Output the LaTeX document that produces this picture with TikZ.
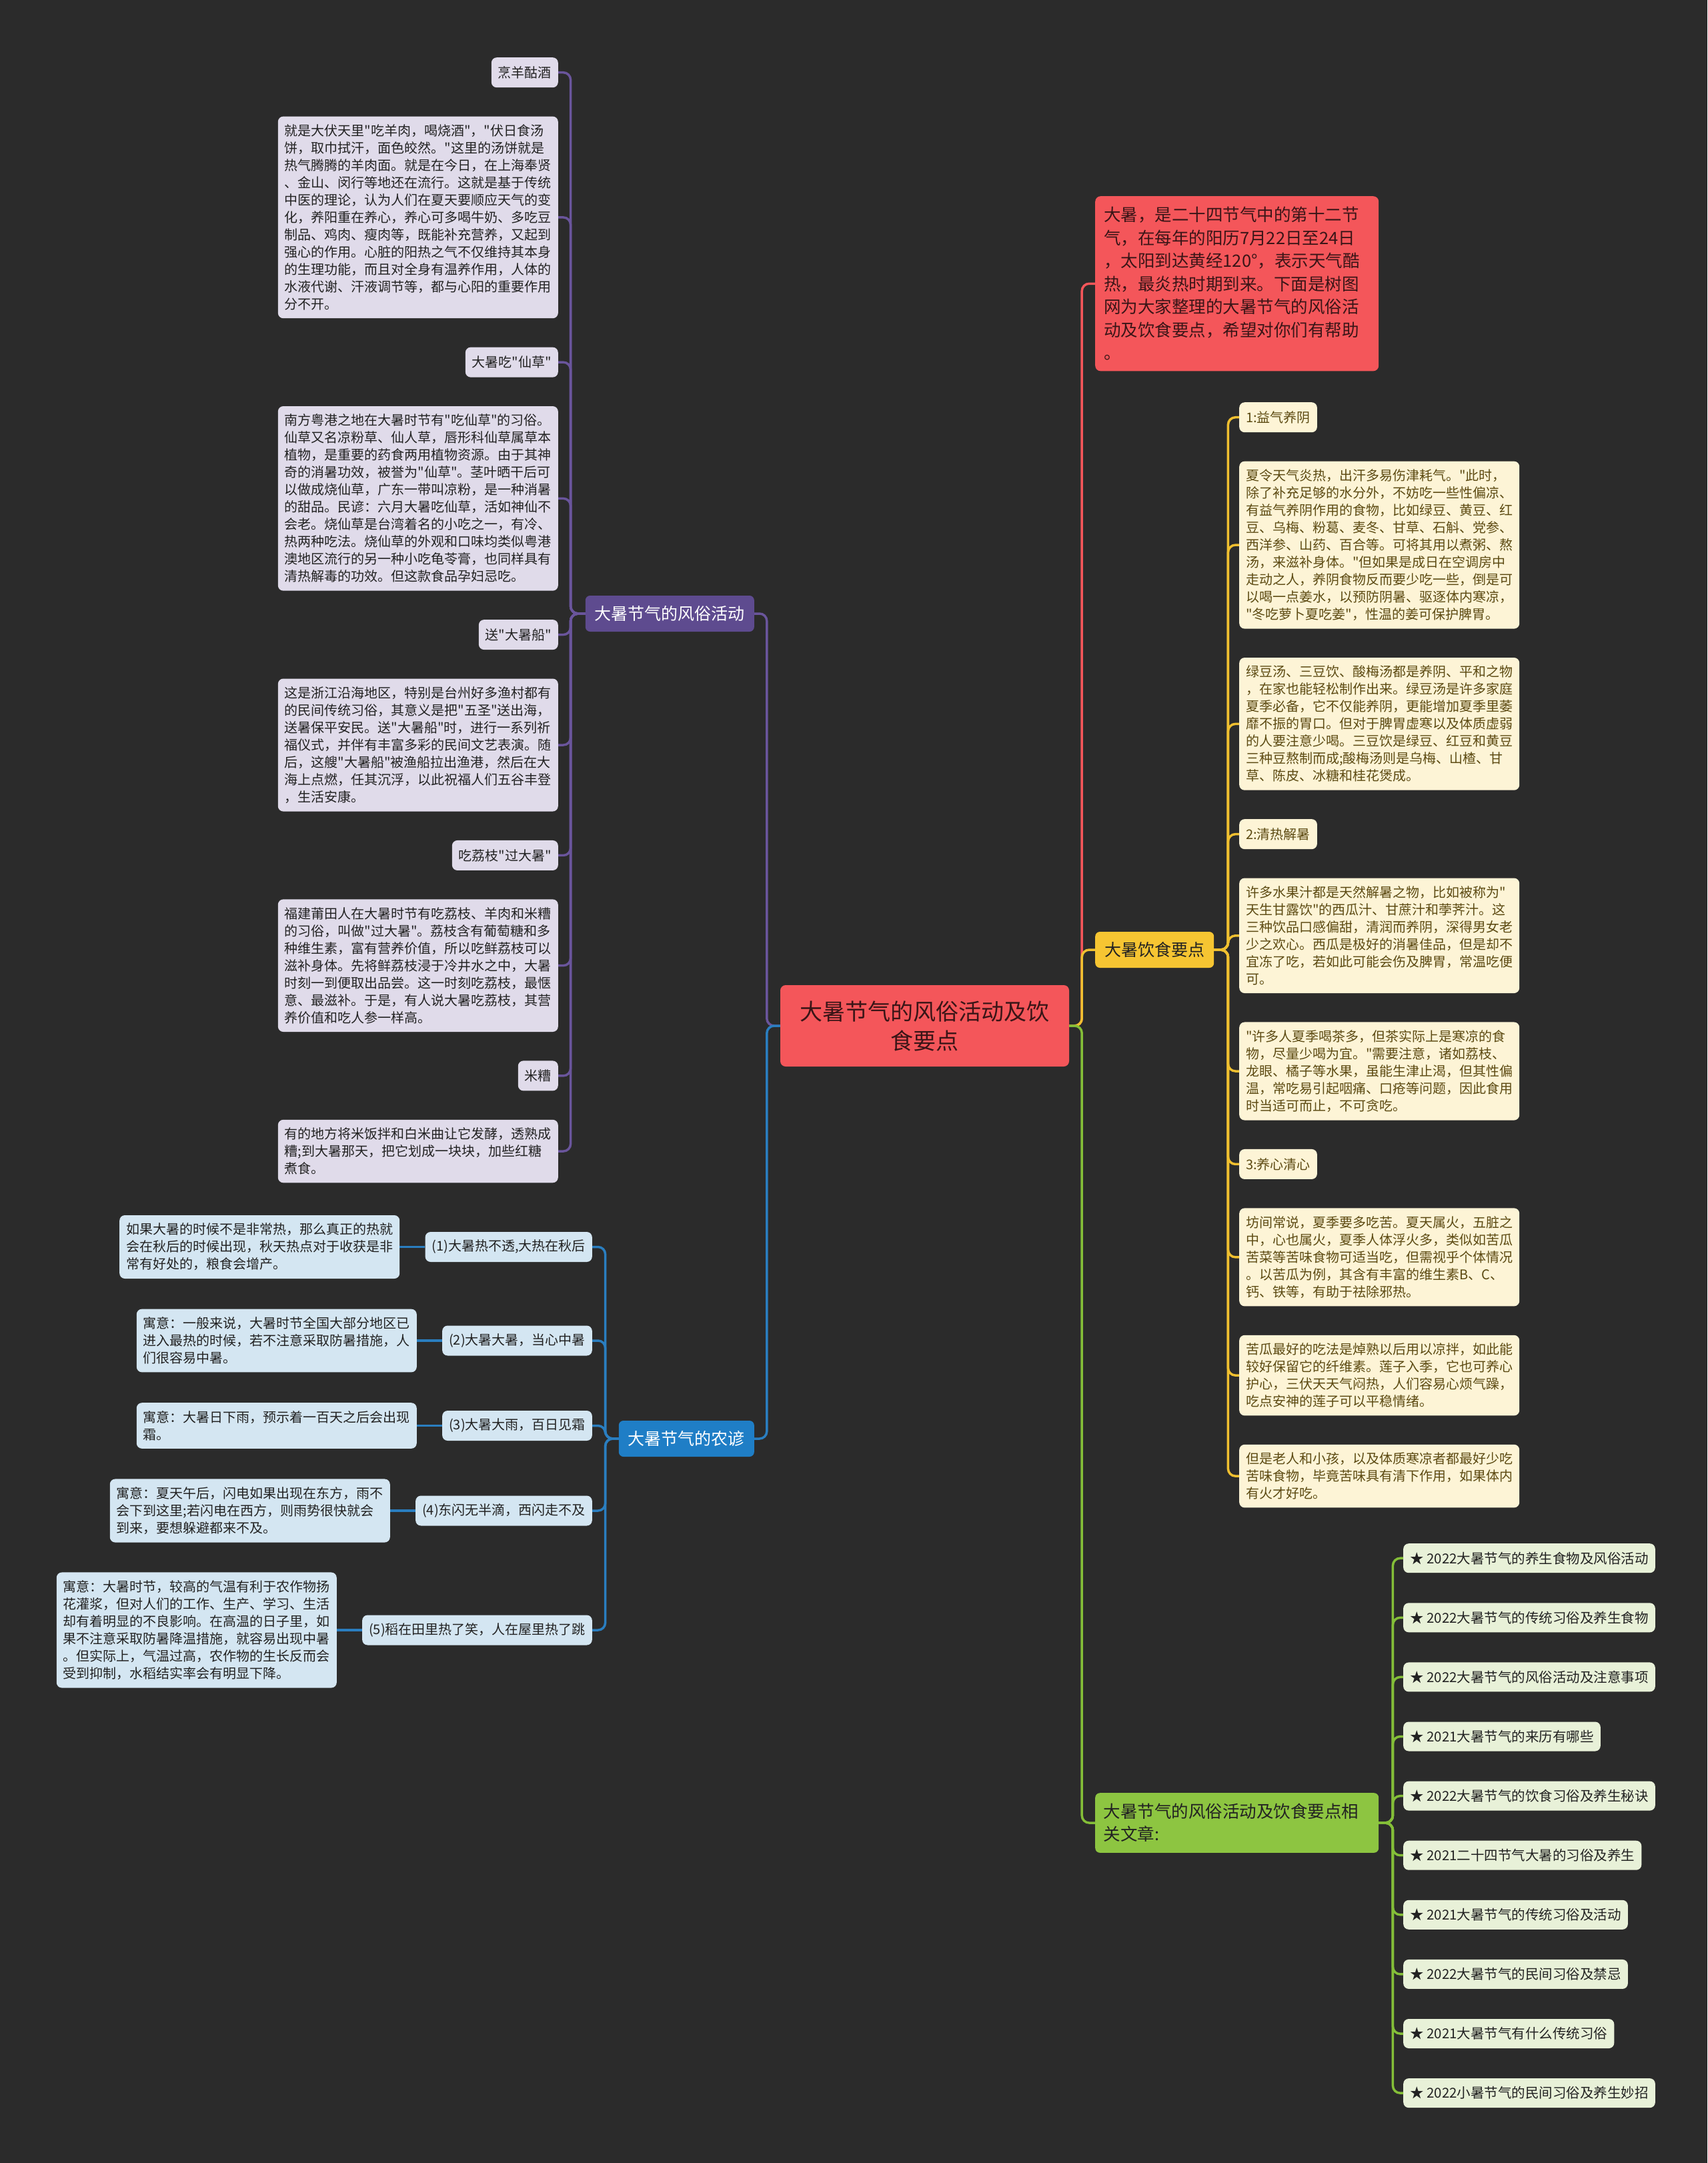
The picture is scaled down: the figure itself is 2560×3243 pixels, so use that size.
\documentclass[tikz,border=0pt]{standalone}
\usepackage{fontspec}
\newfontfamily\cjkfont{Noto Sans CJK SC}
\setmainfont{Noto Sans CJK SC}
\newcommand\cjksize[2]{\cjkfont\fontsize{#1}{#2}\selectfont}
\usepackage{tikz}
\usetikzlibrary{positioning}
\tikzset{every node/.style={font=\cjksize{20}{26}}}
\usepackage{xcolor}
\definecolor{bgdark}{HTML}{2B2B2B}
\definecolor{rootred}{HTML}{F4565A}
\definecolor{redtext}{HTML}{3A1517}
\definecolor{custpurple}{HTML}{5E4B8F}
\definecolor{custline}{HTML}{6A559C}
\definecolor{lavender}{HTML}{E0DBEA}
\definecolor{provblue}{HTML}{1F7EC6}
\definecolor{provline}{HTML}{2A7EC0}
\definecolor{paleblue}{HTML}{D4E6F2}
\definecolor{dietyellow}{HTML}{F6C532}
\definecolor{dietline}{HTML}{F0C030}
\definecolor{cream}{HTML}{FDF4D6}
\definecolor{olivetext}{HTML}{5C4A12}
\definecolor{relgreen}{HTML}{8DC541}
\definecolor{relline}{HTML}{84BE38}
\definecolor{palegreen}{HTML}{E8F1D8}
\definecolor{inktext}{HTML}{222222}

\begin{document}
\begin{tikzpicture}[x=1pt, y=-1pt,
  node distance=43pt,
  rootnode/.style={fill=rootred, rounded corners=8pt, text=redtext, font=\cjksize{34}{44},
    align=center, text width=410pt, minimum width=433pt, minimum height=122pt},
  introbox/.style={fill=rootred, rounded corners=8pt, text=redtext, font=\cjksize{25.5}{34.5},
    align=left, text width=399pt, inner xsep=13pt, inner ysep=16pt},
  branchnode/.style={rounded corners=7pt, font=\cjksize{25}{34}, inner xsep=14pt, minimum height=54pt},
  leafchip/.style={rounded corners=8pt, inner xsep=10pt, minimum height=45pt},
  leafnote/.style={rounded corners=8pt, align=left, text width=400pt, inner xsep=10pt, inner ysep=12pt},
  custchip/.style={leafchip, fill=lavender, text=inktext},
  custnote/.style={leafnote, fill=lavender, text=inktext},
  dietchip/.style={leafchip, fill=cream, text=olivetext},
  dietnote/.style={leafnote, fill=cream, text=olivetext},
  provchip/.style={leafchip, fill=paleblue, text=inktext},
  provnote/.style={leafnote, fill=paleblue, text=inktext},
  relchip/.style={leafchip, fill=palegreen, text=inktext, minimum height=44pt, font=\cjksize{20.5}{26}},
  link/.style={line width=3.5pt, rounded corners=11pt}
]
  \useasboundingbox (0,0) rectangle (2560,3243);
  \fill[bgdark] (0,0) rectangle (2560,3243);

  % centre and main branches
  \node[rootnode] (root) at (1386.5,1538) {大暑节气的风俗活动及饮\\食要点};
  \node[introbox, anchor=north west] (intro) at (1642,294) {大暑，是二十四节气中的第十二节\\气，在每年的阳历7月22日至24日\\，太阳到达黄经120°，表示天气酷\\热，最炎热时期到来。下面是树图\\网为大家整理的大暑节气的风俗活\\动及饮食要点，希望对你们有帮助\\。};
  \node[branchnode, fill=custpurple, text=white, anchor=east] (custom) at (1131,920) {大暑节气的风俗活动};
  \node[branchnode, fill=provblue, text=white, anchor=east] (proverb) at (1131,2157) {大暑节气的农谚};
  \node[branchnode, fill=dietyellow, text=inktext, anchor=west] (diet) at (1642,1424) {大暑饮食要点};
  \node[branchnode, fill=relgreen, text=inktext, anchor=north west, align=left, text width=400pt,
    inner xsep=12.5pt, inner ysep=16pt, font=\cjksize{25.5}{34}] (related) at (1642,2688)
    {大暑节气的风俗活动及饮食要点相\\关文章:};

  % customs
  \node[custchip, anchor=north east] (c1) at (837,86) {烹羊酤酒};
  \node[custnote, below=of c1.south east, anchor=north east] (c1t) {就是大伏天里"吃羊肉，喝烧酒"，"伏日食汤\\饼，取巾拭汗，面色皎然。"这里的汤饼就是\\热气腾腾的羊肉面。就是在今日，在上海奉贤\\、金山、闵行等地还在流行。这就是基于传统\\中医的理论，认为人们在夏天要顺应天气的变\\化，养阳重在养心，养心可多喝牛奶、多吃豆\\制品、鸡肉、瘦肉等，既能补充营养，又起到\\强心的作用。心脏的阳热之气不仅维持其本身\\的生理功能，而且对全身有温养作用，人体的\\水液代谢、汗液调节等，都与心阳的重要作用\\分不开。};
  \node[custchip, below=of c1t.south east, anchor=north east] (c2) {大暑吃"仙草"};
  \node[custnote, below=of c2.south east, anchor=north east] (c2t) {南方粤港之地在大暑时节有"吃仙草"的习俗。\\仙草又名凉粉草、仙人草，唇形科仙草属草本\\植物，是重要的药食两用植物资源。由于其神\\奇的消暑功效，被誉为"仙草"。茎叶晒干后可\\以做成烧仙草，广东一带叫凉粉，是一种消暑\\的甜品。民谚：六月大暑吃仙草，活如神仙不\\会老。烧仙草是台湾着名的小吃之一，有冷、\\热两种吃法。烧仙草的外观和口味均类似粤港\\澳地区流行的另一种小吃龟苓膏，也同样具有\\清热解毒的功效。但这款食品孕妇忌吃。};
  \node[custchip, below=of c2t.south east, anchor=north east] (c3) {送"大暑船"};
  \node[custnote, below=of c3.south east, anchor=north east] (c3t) {这是浙江沿海地区，特别是台州好多渔村都有\\的民间传统习俗，其意义是把"五圣"送出海，\\送暑保平安民。送"大暑船"时，进行一系列祈\\福仪式，并伴有丰富多彩的民间文艺表演。随\\后，这艘"大暑船"被渔船拉出渔港，然后在大\\海上点燃，任其沉浮，以此祝福人们五谷丰登\\，生活安康。};
  \node[custchip, below=of c3t.south east, anchor=north east] (c4) {吃荔枝"过大暑"};
  \node[custnote, below=of c4.south east, anchor=north east] (c4t) {福建莆田人在大暑时节有吃荔枝、羊肉和米糟\\的习俗，叫做"过大暑"。荔枝含有葡萄糖和多\\种维生素，富有营养价值，所以吃鲜荔枝可以\\滋补身体。先将鲜荔枝浸于冷井水之中，大暑\\时刻一到便取出品尝。这一时刻吃荔枝，最惬\\意、最滋补。于是，有人说大暑吃荔枝，其营\\养价值和吃人参一样高。};
  \node[custchip, below=of c4t.south east, anchor=north east] (c5) {米糟};
  \node[custnote, below=of c5.south east, anchor=north east] (c5t) {有的地方将米饭拌和白米曲让它发酵，透熟成\\糟;到大暑那天，把它划成一块块，加些红糖\\煮食。};

  % proverbs
  \node[provchip, anchor=east] (p1) at (888,1869.5) {(1)大暑热不透,大热在秋后};
  \node[provnote, left=38pt of p1] (p1t) {如果大暑的时候不是非常热，那么真正的热就\\会在秋后的时候出现，秋天热点对于收获是非\\常有好处的，粮食会增产。};
  \node[provchip, anchor=east] (p2) at (888,2010) {(2)大暑大暑，当心中暑};
  \node[provnote, left=38pt of p2] (p2t) {寓意：一般来说，大暑时节全国大部分地区已\\进入最热的时候，若不注意采取防暑措施，人\\们很容易中暑。};
  \node[provchip, anchor=east] (p3) at (888,2137.5) {(3)大暑大雨，百日见霜};
  \node[provnote, left=38pt of p3] (p3t) {寓意：大暑日下雨，预示着一百天之后会出现\\霜。};
  \node[provchip, anchor=east] (p4) at (888,2265) {(4)东闪无半滴，西闪走不及};
  \node[provnote, left=38pt of p4] (p4t) {寓意：夏天午后，闪电如果出现在东方，雨不\\会下到这里;若闪电在西方，则雨势很快就会\\到来，要想躲避都来不及。};
  \node[provchip, anchor=east] (p5) at (888,2444) {(5)稻在田里热了笑，人在屋里热了跳};
  \node[provnote, left=38pt of p5] (p5t) {寓意：大暑时节，较高的气温有利于农作物扬\\花灌浆，但对人们的工作、生产、学习、生活\\却有着明显的不良影响。在高温的日子里，如\\果不注意采取防暑降温措施，就容易出现中暑\\。但实际上，气温过高，农作物的生长反而会\\受到抑制，水稻结实率会有明显下降。};

  % diet
  \node[dietchip, anchor=north west] (d1) at (1858,603) {1:益气养阴};
  \node[dietnote, below=of d1.south west, anchor=north west] (d1t) {夏令天气炎热，出汗多易伤津耗气。"此时，\\除了补充足够的水分外，不妨吃一些性偏凉、\\有益气养阴作用的食物，比如绿豆、黄豆、红\\豆、乌梅、粉葛、麦冬、甘草、石斛、党参、\\西洋参、山药、百合等。可将其用以煮粥、熬\\汤，来滋补身体。"但如果是成日在空调房中\\走动之人，养阴食物反而要少吃一些，倒是可\\以喝一点姜水，以预防阴暑、驱逐体内寒凉，\\"冬吃萝卜夏吃姜"，性温的姜可保护脾胃。};
  \node[dietnote, below=of d1t.south west, anchor=north west] (d1u) {绿豆汤、三豆饮、酸梅汤都是养阴、平和之物\\，在家也能轻松制作出来。绿豆汤是许多家庭\\夏季必备，它不仅能养阴，更能增加夏季里萎\\靡不振的胃口。但对于脾胃虚寒以及体质虚弱\\的人要注意少喝。三豆饮是绿豆、红豆和黄豆\\三种豆熬制而成;酸梅汤则是乌梅、山楂、甘\\草、陈皮、冰糖和桂花煲成。};
  \node[dietchip, below=of d1u.south west, anchor=north west] (d2) {2:清热解暑};
  \node[dietnote, below=of d2.south west, anchor=north west] (d2t) {许多水果汁都是天然解暑之物，比如被称为"\\天生甘露饮"的西瓜汁、甘蔗汁和荸荠汁。这\\三种饮品口感偏甜，清润而养阴，深得男女老\\少之欢心。西瓜是极好的消暑佳品，但是却不\\宜冻了吃，若如此可能会伤及脾胃，常温吃便\\可。};
  \node[dietnote, below=of d2t.south west, anchor=north west] (d2u) {"许多人夏季喝茶多，但茶实际上是寒凉的食\\物，尽量少喝为宜。"需要注意，诸如荔枝、\\龙眼、橘子等水果，虽能生津止渴，但其性偏\\温，常吃易引起咽痛、口疮等问题，因此食用\\时当适可而止，不可贪吃。};
  \node[dietchip, below=of d2u.south west, anchor=north west] (d3) {3:养心清心};
  \node[dietnote, below=of d3.south west, anchor=north west] (d3t) {坊间常说，夏季要多吃苦。夏天属火，五脏之\\中，心也属火，夏季人体浮火多，类似如苦瓜\\苦菜等苦味食物可适当吃，但需视乎个体情况\\。以苦瓜为例，其含有丰富的维生素B、C、\\钙、铁等，有助于祛除邪热。};
  \node[dietnote, below=of d3t.south west, anchor=north west] (d3u) {苦瓜最好的吃法是焯熟以后用以凉拌，如此能\\较好保留它的纤维素。莲子入季，它也可养心\\护心，三伏天天气闷热，人们容易心烦气躁，\\吃点安神的莲子可以平稳情绪。};
  \node[dietnote, below=of d3u.south west, anchor=north west] (d3v) {但是老人和小孩，以及体质寒凉者都最好少吃\\苦味食物，毕竟苦味具有清下作用，如果体内\\有火才好吃。};

  % related articles
  \node[relchip, anchor=north west] (r1) at (2104,2314) {★ 2022大暑节气的养生食物及风俗活动};
  \node[relchip, below=44.7pt of r1.south west, anchor=north west] (r2) {★ 2022大暑节气的传统习俗及养生食物};
  \node[relchip, below=44.7pt of r2.south west, anchor=north west] (r3) {★ 2022大暑节气的风俗活动及注意事项};
  \node[relchip, below=44.7pt of r3.south west, anchor=north west] (r4) {★ 2021大暑节气的来历有哪些};
  \node[relchip, below=44.7pt of r4.south west, anchor=north west] (r5) {★ 2022大暑节气的饮食习俗及养生秘诀};
  \node[relchip, below=44.7pt of r5.south west, anchor=north west] (r6) {★ 2021二十四节气大暑的习俗及养生};
  \node[relchip, below=44.7pt of r6.south west, anchor=north west] (r7) {★ 2021大暑节气的传统习俗及活动};
  \node[relchip, below=44.7pt of r7.south west, anchor=north west] (r8) {★ 2022大暑节气的民间习俗及禁忌};
  \node[relchip, below=44.7pt of r8.south west, anchor=north west] (r9) {★ 2021大暑节气有什么传统习俗};
  \node[relchip, below=44.7pt of r9.south west, anchor=north west] (r10) {★ 2022小暑节气的民间习俗及养生妙招};

  % connectors
  \draw[link, custline] (root.west) -- ++(-20,0) |- (custom.east);
  \draw[link, provline] (root.west) -- ++(-20,0) |- (proverb.east);
  \draw[link, rootred] (root.east) -- ++(19,0) |- (intro.west);
  \draw[link, dietline] (root.east) -- ++(19,0) |- (diet.west);
  \draw[link, relline] (root.east) -- ++(19,0) |- (related.west);
  \foreach \kid in {c1,c1t,c2,c2t,c3,c3t,c4,c4t,c5,c5t}
    \draw[link, custline] (custom.west) -- ++(-22,0) |- (\kid.east);
  \foreach \kid in {p1,p2,p3,p4,p5} {
    \draw[link, provline] (proverb.west) -- ++(-20,0) |- (\kid.east);
    \draw[link, provline] (\kid.west) -- (\kid t.east);
  }
  \foreach \kid in {d1,d1t,d1u,d2,d2t,d2u,d3,d3t,d3u,d3v}
    \draw[link, dietline] (diet.east) -- ++(21,0) |- (\kid.west);
  \foreach \kid in {r1,r2,r3,r4,r5,r6,r7,r8,r9,r10}
    \draw[link, relline] (related.east) -- ++(21,0) |- (\kid.west);
\end{tikzpicture}
\end{document}
